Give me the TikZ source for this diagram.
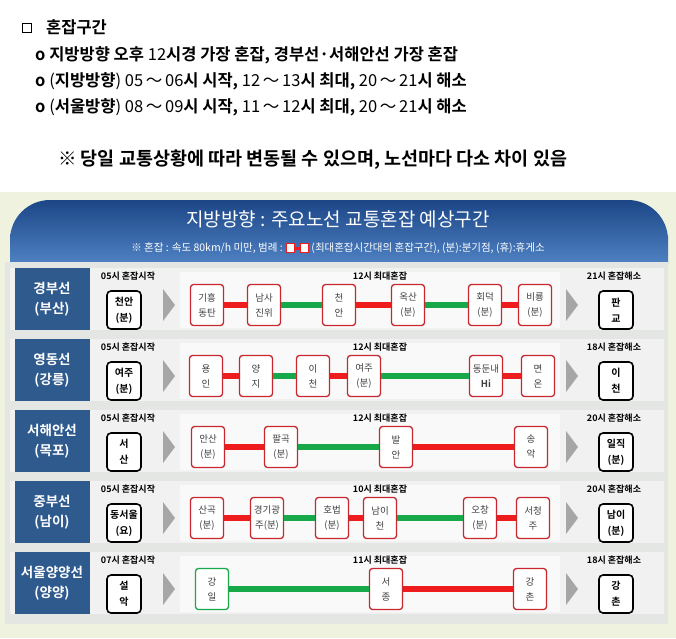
\documentclass[tikz,border=0pt]{standalone}
\usepackage{fontspec}
\setmainfont{Noto Sans CJK KR}[BoldFont={Noto Sans CJK KR Bold}]
\definecolor{bannerA}{HTML}{1C4686}
\definecolor{bannerB}{HTML}{4F82C4}
\definecolor{lblue}{HTML}{2F5A8E}
\definecolor{cred}{HTML}{EE1C1C}
\definecolor{cgreen}{HTML}{17A84A}
\definecolor{bred}{HTML}{C8282D}
\definecolor{panel}{HTML}{E4E6E4}
\definecolor{rowbg}{HTML}{F1F1F1}
\definecolor{outer}{HTML}{EEF2DE}
\newcommand{\tl}{\,\char"FF5E\,}
\tikzset{
 stn/.style={draw=bred,line width=1.3pt,rounded corners=3pt,fill=white,minimum width=33pt,minimum height=41pt,inner sep=0pt,align=center,font=\fontsize{9.5}{15}\selectfont,text=black!75},
 gstn/.style={stn,draw=cgreen},
 endbox/.style={draw=black,line width=1.6pt,rounded corners=4pt,fill=white,minimum width=34pt,minimum height=38pt,inner sep=0pt,align=center,font=\bfseries\fontsize{10}{16}\selectfont},
 lbl/.style={fill=lblue,minimum width=75pt,minimum height=62pt,text=white,align=center,font=\bfseries\fontsize{13.5}{20}\selectfont,inner sep=0pt},
 tlab/.style={font=\bfseries\fontsize{9}{10}\selectfont,inner sep=0pt},
 rl/.style={cred,line width=5.5pt},
 gl/.style={cgreen,line width=5.5pt},
 chev/.style={fill=gray!70,draw=none},
 topt/.style={anchor=west,font=\bfseries\fontsize{16.5}{18}\selectfont,inner sep=0pt},
}
\newcommand{\rowbase}[7]{%
 \fill[rowbg] (10,#2-31) rectangle (664,#2+31);
 \fill[white!60!rowbg] (180,#2-27) rectangle (560,#2+29);
 \node[lbl] (#1L) at (52,#2) {#3};
 \node[tlab] (#1a) at (128,#2-23) {#4};
 \node[tlab] (#1b) at (#7,#2-23) {#5};
 \node[tlab] (#1c) at (614,#2-23) {#6};
 \fill[chev] (163,#2-10) -- (175,#2+6) -- (163,#2+22) -- cycle;
 \fill[chev] (566,#2-10) -- (578,#2+6) -- (566,#2+22) -- cycle;
}
\begin{document}
\begin{tikzpicture}[x=1pt,y=-1pt]
\useasboundingbox (0,0) rectangle (676,638);
\fill[white] (0,0) rectangle (676,638);
\fill[outer] (0,192) rectangle (676,638);
\node[draw=black,line width=1pt,minimum size=9pt,inner sep=0pt] (sq) at (27,28) {};
\node[topt] (t0) at (46,27) {혼잡구간};
\node[topt] (t1) at (35,55) {o 지방방향 오후 {\mdseries 12}시경 가장 혼잡, 경부선·서해안선 가장 혼잡};
\node[topt] (t2) at (35,81) {o {\mdseries (}지방방향{\mdseries ) 05\tl06}시 시작, {\mdseries 12\tl13}시 최대, {\mdseries 20\tl21}시 해소};
\node[topt] (t3) at (35,107) {o {\mdseries (}서울방향{\mdseries ) 08\tl09}시 시작, {\mdseries 11\tl12}시 최대, {\mdseries 20\tl21}시 해소};
\node[topt,font=\bfseries\fontsize{18.5}{20}\selectfont] (t4) at (58,160) {※ 당일 교통상황에 따라 변동될 수 있으며, 노선마다 다소 차이 있음};
\shade[top color=bannerA,bottom color=bannerB] (10,264) -- (10,235) [rounded corners=40pt] -- (10,200) -- (668,200) [sharp corners] -- (668,235) -- (668,264) -- cycle;
\node[text=white,font=\fontsize{19}{22}\selectfont] (title) at (338,219) {지방방향 : 주요노선 교통혼잡 예상구간};
\node[text=white,font=\fontsize{10.5}{12}\selectfont] (sub) at (338,248) {※ 혼잡 : 속도 80km/h 미만, 범례 : \tikz[baseline=-3pt]{\draw[cred,line width=3pt](0,0)--(14pt,0);\fill[white,draw=cred,line width=1.2pt](-4pt,-4.5pt) rectangle (4pt,4.5pt);\fill[white,draw=cred,line width=1.2pt](10pt,-4.5pt) rectangle (18pt,4.5pt);} (최대혼잡시간대의 혼잡구간), (분):분기점, (휴):휴게소};
\fill[panel] (5,262) rectangle (668,624);
% row 1
\rowbase{a}{299}{경부선\\(부산)}{05시 혼잡시작}{12시 최대혼잡}{21시 혼잡해소}{380}
\node[endbox] (as) at (124,310) {천안\\(분)};
\node[endbox] (ae) at (616,310) {판\\교};
\node[stn] (a1) at (207,305) {기흥\\동탄};
\node[stn] (a2) at (264,305) {남사\\진위};
\node[stn] (a3) at (339,305) {천\\안};
\node[stn] (a4) at (408,305) {옥산\\(분)};
\node[stn] (a5) at (485,305) {회덕\\(분)};
\node[stn] (a6) at (535,305) {비룡\\(분)};
\draw[rl] (a1) -- (a2); \draw[gl] (a2) -- (a3); \draw[rl] (a3) -- (a4); \draw[gl] (a4) -- (a5); \draw[rl] (a5) -- (a6);
% row 2
\rowbase{b}{370}{영동선\\(강릉)}{05시 혼잡시작}{12시 최대혼잡}{18시 혼잡해소}{380}
\node[endbox] (bs) at (124,381) {여주\\(분)};
\node[endbox] (be) at (616,381) {이\\천};
\node[stn] (b1) at (206,376) {용\\인};
\node[stn] (b2) at (256,376) {양\\지};
\node[stn] (b3) at (313,376) {이\\천};
\node[stn] (b4) at (364,376) {여주\\(분)};
\node[stn] (b5) at (486,376) {동둔내\\\textbf{Hi}};
\node[stn] (b6) at (538,376) {면\\온};
\draw[rl] (b1) -- (b2); \draw[gl] (b2) -- (b3); \draw[rl] (b3) -- (b4); \draw[gl] (b4) -- (b5); \draw[rl] (b5) -- (b6);
% row 3
\rowbase{c}{441}{서해안선\\(목포)}{05시 혼잡시작}{12시 최대혼잡}{20시 혼잡해소}{380}
\node[endbox] (cs) at (124,452) {서\\산};
\node[endbox] (ce) at (616,452) {일직\\(분)};
\node[stn] (c1) at (208,447) {안산\\(분)};
\node[stn] (c2) at (281,447) {팔곡\\(분)};
\node[stn] (c3) at (396,447) {발\\안};
\node[stn] (c4) at (531,447) {송\\악};
\draw[rl] (c1) -- (c2); \draw[gl] (c2) -- (c3); \draw[rl] (c3) -- (c4);
% row 4
\rowbase{d}{512}{중부선\\(남이)}{05시 혼잡시작}{10시 최대혼잡}{20시 혼잡해소}{380}
\node[endbox] (ds) at (124,523) {동서울\\(요)};
\node[endbox] (de) at (616,523) {남이\\(분)};
\node[stn] (d1) at (207,518) {산곡\\(분)};
\node[stn] (d2) at (267,518) {경기광\\주(분)};
\node[stn] (d3) at (332,518) {호법\\(분)};
\node[stn] (d4) at (380,518) {남이\\천};
\node[stn] (d5) at (480,518) {오창\\(분)};
\node[stn] (d6) at (533,518) {서청\\주};
\draw[rl] (d1) -- (d2); \draw[gl] (d2) -- (d3); \draw[rl] (d3) -- (d4); \draw[gl] (d4) -- (d5); \draw[rl] (d5) -- (d6);
% row 5
\rowbase{e}{583}{서울양양선\\(양양)}{07시 혼잡시작}{11시 최대혼잡}{18시 혼잡해소}{380}
\node[endbox] (es) at (124,594) {설\\악};
\node[endbox] (ee) at (616,594) {강\\촌};
\node[gstn] (e1) at (212,589) {강\\일};
\node[stn] (e2) at (386,589) {서\\종};
\node[stn] (e3) at (530,589) {강\\촌};
\draw[gl] (e1) -- (e2); \draw[rl] (e2) -- (e3);
\end{tikzpicture}
\end{document}
